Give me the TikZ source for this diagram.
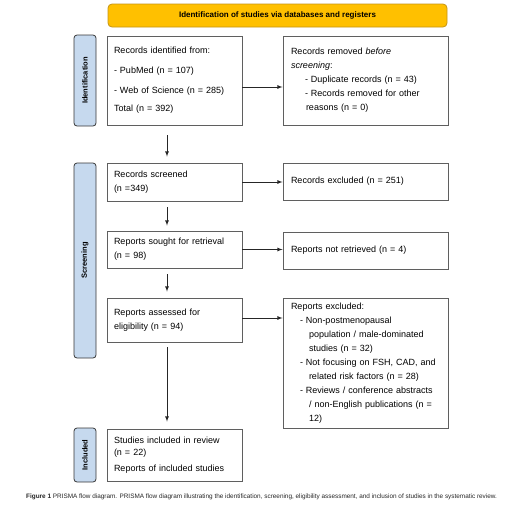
\documentclass[tikz,border=0pt]{standalone}
\usepackage{fontspec}
\setmainfont{Liberation Sans}
\usetikzlibrary{calc,shapes,arrows}
\definecolor{bannerfill}{RGB}{255,192,0}
\definecolor{bannerline}{RGB}{196,148,20}
\definecolor{stagefill}{RGB}{198,217,238}
\definecolor{stageline}{RGB}{55,55,55}
\definecolor{boxline}{RGB}{95,95,95}

\begin{document}
\begin{tikzpicture}[x=1pt,y=-1pt,
    leftbox/.style={draw=boxline,line width=0.9pt,fill=white,text width=121pt,inner xsep=7pt,inner ysep=2pt,align=left,font=\fontsize{9}{14}\selectfont},
    rightbox/.style={leftbox,text width=149pt,inner xsep=8pt},
    stage/.style={draw=stageline,line width=0.8pt,fill=stagefill,rounded corners=3pt,rotate=90,minimum height=22pt,inner sep=0pt,font=\fontsize{7.5}{9}\selectfont\bfseries},
    flow/.style={-latex,line width=0.8pt,draw=black!85}]
        \useasboundingbox (0,0) rectangle (506,507);
        % top banner
        \node[draw=bannerline,line width=0.8pt,fill=bannerfill,rounded corners=4pt,minimum width=339pt,minimum height=23pt,font=\fontsize{8}{9}\selectfont\bfseries] (banner) at (277.5,15.5) {Identification of studies via databases and registers};
        % stage labels
        \node[stage,minimum width=91pt] (stident) at (85,80.5) {Identification};
        \node[stage,minimum width=195pt] (stscreen) at (85,260.5) {Screening};
        \node[stage,minimum width=54pt] (stincl) at (85,455) {Included};
        % left column
        \node[leftbox,minimum height=89pt] (ident) at (174.5,80.5) {Records identified from:\\[6pt]- PubMed (n = 107)\\[6pt]- Web of Science (n = 285)\\[4pt]Total (n = 392)};
        \node[leftbox,minimum height=38pt] (screened) at (174.5,182) {Records screened\\(n =349)};
        \node[leftbox,minimum height=37pt] (sought) at (174.5,249.5) {Reports sought for retrieval\\(n = 98)};
        \node[leftbox,minimum height=44pt] (assessed) at (174.5,320) {Reports assessed for\\eligibility (n = 94)};
        \node[leftbox,minimum height=52pt] (studies) at (174.5,455) {Studies included in review\\[-2pt](n = 22)\\[2pt]Reports of included studies};
        % right column
        \node[rightbox,minimum height=89pt] (removed) at (365.5,80.5) {Records removed \textit{before}\\\textit{screening}:\\\hspace*{14pt}- Duplicate records (n = 43)\\\hspace*{14pt}- Records removed for other\\\hspace*{15pt}reasons (n = 0)};
        \node[rightbox,minimum height=37pt] (excluded) at (365.5,181.5) {Records excluded (n = 251)};
        \node[rightbox,minimum height=37pt] (notretr) at (365.5,250.5) {Reports not retrieved (n = 4)};
        \node[rightbox,minimum height=130pt] (repexcl) at (365.5,363) {Reports excluded:\\\hspace*{9pt}- Non-postmenopausal\\\hspace*{18pt}population / male-dominated\\\hspace*{18pt}studies (n = 32)\\\hspace*{9pt}- Not focusing on FSH, CAD, and\\\hspace*{18pt}related risk factors (n = 28)\\\hspace*{9pt}- Reviews / conference abstracts\\\hspace*{18pt}/ non-English publications (n =\\\hspace*{18pt}12)};
        % caption
        \node[anchor=west,inner sep=0pt,text=black!85,font=\fontsize{6.4}{7}\selectfont] (caption) at (26,497) {\textbf{Figure 1} PRISMA flow diagram. PRISMA flow diagram illustrating the identification, screening, eligibility assessment, and inclusion of studies in the systematic review.};
        % arrows
        \coordinate (colx) at (167,0);
        \coordinate (identout) at ([yshift=-6.5pt]ident.east);
        \coordinate (assout) at ([yshift=2pt]assessed.east);
        \draw[flow,shorten <=10pt,shorten >=6pt] (ident.south -| colx) -- (screened.north -| colx);
        \draw[flow,shorten <=6pt,shorten >=5pt] (screened.south -| colx) -- (sought.north -| colx);
        \draw[flow,shorten <=6pt,shorten >=6pt] (sought.south -| colx) -- (assessed.north -| colx);
        \draw[flow,shorten <=5pt,shorten >=7pt] (assessed.south -| colx) -- (studies.north -| colx);
        \draw[flow] (identout) -- (identout -| removed.west);
        \draw[flow] (screened.east) -- (screened.east -| excluded.west);
        \draw[flow] (sought.east) -- (sought.east -| notretr.west);
        \draw[flow] (assout) -- (assout -| repexcl.west);
    \end{tikzpicture}
\end{document}
